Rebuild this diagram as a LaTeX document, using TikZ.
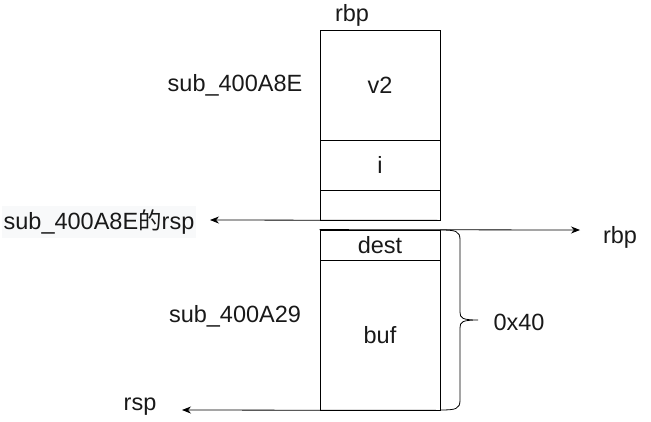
\documentclass[tikz,border=0pt]{standalone}
\usepackage{fontspec}
\setmainfont{Liberation Sans}
\newfontfamily\cjk{Noto Sans CJK SC}
\usetikzlibrary{arrows.meta,decorations.pathreplacing}
\definecolor{lblbg}{HTML}{F8F9FA}
\tikzset{
  cell/.style={draw=black, line width=0.8pt, inner sep=0pt},
  lbl/.style={font=\fontsize{23.5}{28}\selectfont, inner sep=0pt, text=black!90},
  arr/.style={line width=0.8pt, -{Stealth[length=9pt,width=7pt]}},
}
\begin{document}
\begin{tikzpicture}[x=1pt,y=-1pt]
\useasboundingbox (0,0) rectangle (651,421);
% upper stack
\node[cell, minimum width=120pt, minimum height=110pt] (v2) at (380,85) {};
\node[cell, minimum width=120pt, minimum height=50pt] (ii) at (380,165) {};
\node[cell, minimum width=120pt, minimum height=30pt] (blank) at (380,205) {};
% lower stack
\node[cell, minimum width=120pt, minimum height=30pt] (dest) at (380,245) {};
\node[cell, minimum width=120pt, minimum height=150pt] (buf) at (380,335) {};
% texts
\node[lbl] at (v2.center) {v2};
\node[lbl] at (ii.center) {i};
\node[lbl] at (dest.center) {dest};
\node[lbl] at (buf.center) {buf};
\node[lbl] (rbptop) at (352,15) {rbp};
\node[lbl] (s8e) at (235,85) {sub\_400A8E};
\node[lbl] (s29) at (235,316) {sub\_400A29};
\node[lbl, fill=lblbg, inner xsep=2pt, inner ysep=4pt] (s8ersp) at (99,222) {sub\_400A8E{\cjk 的}rsp};
\node[lbl] (rbpr) at (620,237) {rbp};
\node[lbl] (rsp) at (140,407) {rsp};
\node[lbl] (hex) at (519,322) {0x40};
% connectors
\coordinate (t1) at (210,220);
\coordinate (t2) at (580,230);
\coordinate (t3) at (182,410);
\draw[arr] (blank.south east) -- (t1);
\draw[arr] (dest.north west) -- (t2);
\draw[arr] (buf.south east) -- (t3);
% brace
\draw[line width=0.8pt]
  (440,230) .. controls (456,230) and (460,231) .. (460,240)
  -- (460,312) .. controls (460,318) and (462,320) .. (478,320)
  (478,320) .. controls (462,320) and (460,322) .. (460,328)
  -- (460,400) .. controls (460,409) and (456,410) .. (440,410);
\end{tikzpicture}
\end{document}
